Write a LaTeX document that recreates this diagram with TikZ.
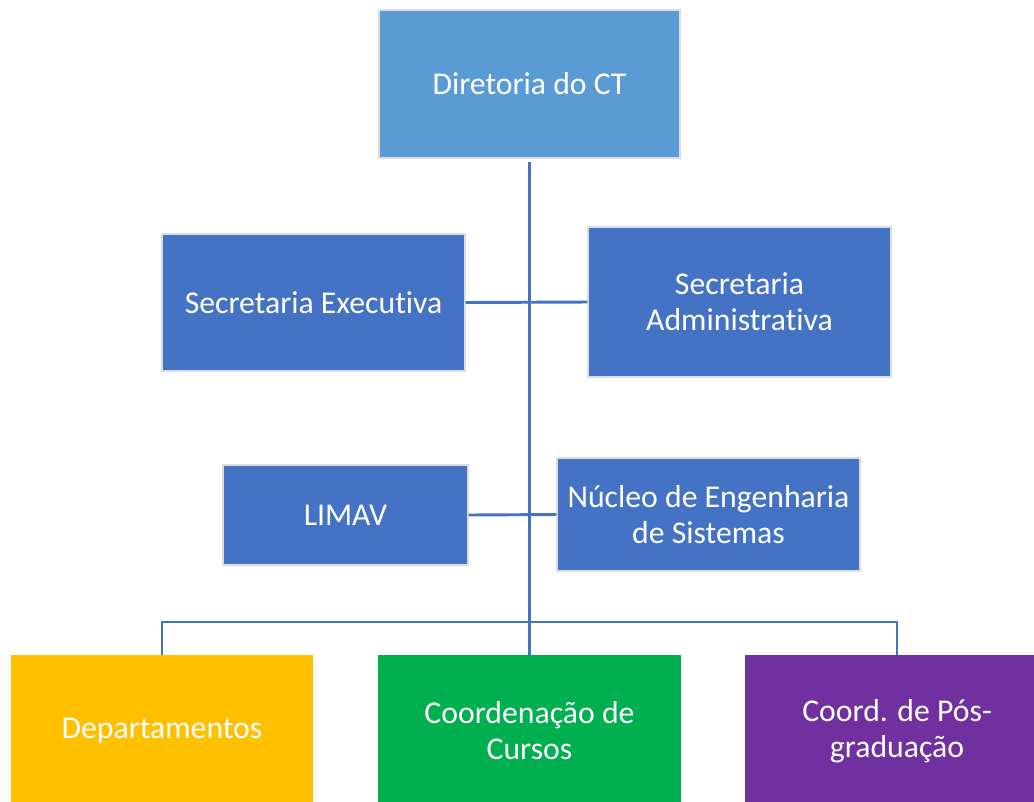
\documentclass[tikz,border=0pt]{standalone}
\usepackage{fontspec}
\setmainfont[Ligatures={NoCommon}]{Carlito}
\usetikzlibrary{positioning}

\definecolor{ctblue}{RGB}{91,155,213}
\definecolor{secblue}{RGB}{68,114,196}
\definecolor{depyellow}{RGB}{255,192,0}
\definecolor{curgreen}{RGB}{0,176,80}
\definecolor{pospurple}{RGB}{112,48,160}
\definecolor{edgegray}{RGB}{220,220,220}

\begin{document}
\begin{tikzpicture}[x=0.75pt, y=-0.75pt,
						font=\fontsize{23.8}{27}\selectfont,
						box/.style = {rectangle, draw=edgegray, line width=0.8pt, text=white,
										align=center, inner sep=2pt},
						link/.style = {draw=secblue, line width=2.2pt}
						]
						\useasboundingbox (0,0) rectangle (1034,801);

						% --- Direcao ---
						\node[box, fill=ctblue, minimum width=301*0.75pt, minimum height=148*0.75pt] (dir) at (529.5,84) {Diretoria do CT};

						% --- Secretarias ---
						\node[box, fill=secblue, minimum width=303*0.75pt, minimum height=137*0.75pt] (secexec) at (313.5,302.5) {Secretaria Executiva};
						\node[box, fill=secblue, minimum width=303*0.75pt, minimum height=150*0.75pt] (secadm) at (739.5,302) {Secretaria\\Administrativa};

						% --- Laboratorio e nucleo ---
						\node[box, fill=secblue, minimum width=245*0.75pt, minimum height=100*0.75pt] (limav) at (345.5,515) {LIMAV};
						\node[box, fill=secblue, minimum width=303*0.75pt, minimum height=113*0.75pt] (nucleo) at (708.5,514.5) {N\'ucleo de Engenharia\\de Sistemas};

						% --- Fila inferior ---
						\node[box, fill=depyellow, draw=depyellow, minimum width=300*0.75pt, minimum height=150*0.75pt] (dep) at (162,731) {Departamentos};
						\node[box, fill=curgreen, draw=curgreen, minimum width=301*0.75pt, minimum height=150*0.75pt] (cursos) at (529.5,731) {Coordena\c{c}\~ao de\\Cursos};
						\node[box, fill=pospurple, draw=pospurple, minimum width=302*0.75pt, minimum height=150*0.75pt] (pos) at (897,731) {Coord. de P\'os-\\gradua\c{c}\~ao};

						\coordinate (bus) at (529,622);

						% --- Conexoes ---
						\draw[link] ([yshift=-3*0.75pt]dir.south) -- (cursos.north);
						\draw[link] (secexec.east) -- (secadm.west);
						\draw[link] (limav.east) -- (nucleo.west);
						\draw[link] (bus) -| (dep.north);
						\draw[link] (bus) -| (pos.north);

					\end{tikzpicture}
\end{document}
